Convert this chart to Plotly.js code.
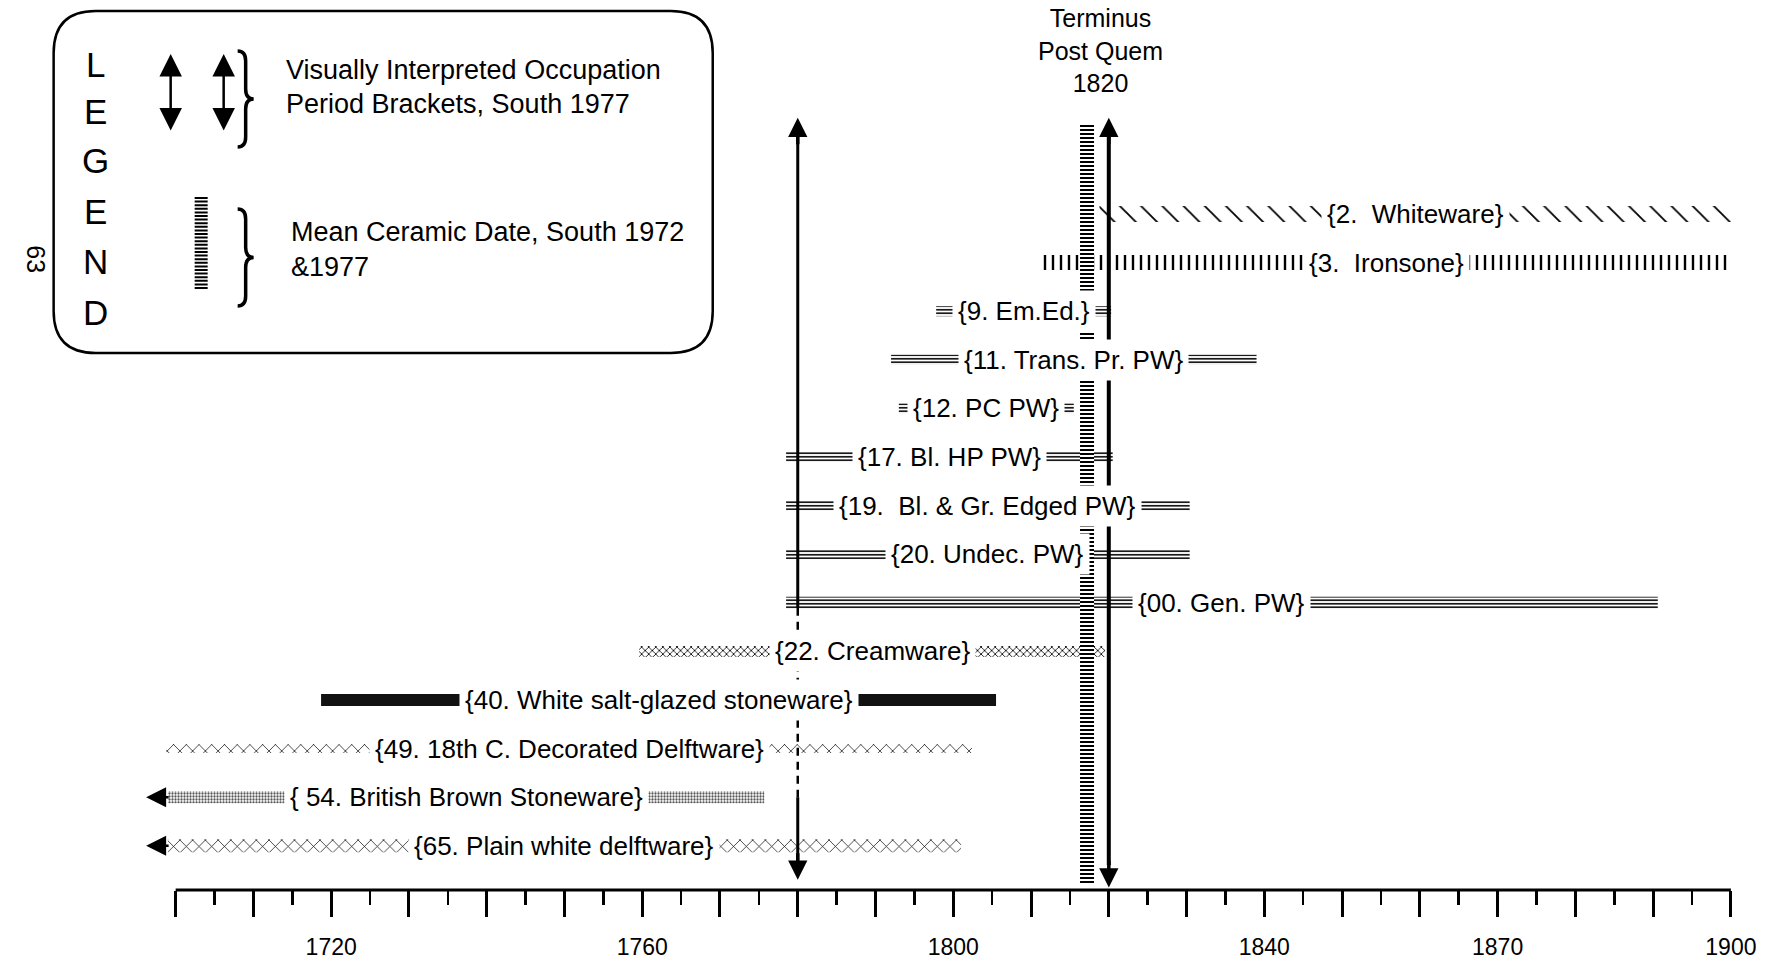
<!DOCTYPE html>
<html>
<head>
<meta charset="utf-8">
<script src="https://cdn.plot.ly/plotly-3.0.1.min.js"></script>
<style>html,body{margin:0;padding:0;background:#fff;}#chart{width:1769px;height:962px;}</style>
</head>
<body>
<div id="chart"></div>
<script>
// ---------------- DATA ----------------
const rowLabels = [
  "{2.  Whiteware}",
  "{3.  Ironsone}",
  "{9. Em.Ed.}",
  "{11. Trans. Pr. PW}",
  "{12. PC PW}",
  "{17. Bl. HP PW}",
  "{19.  Bl. & Gr. Edged PW}",
  "{20. Undec. PW}",
  "{00. Gen. PW}",
  "{22. Creamware}",
  "{40. White salt-glazed stoneware}",
  "{49. 18th C. Decorated Delftware}",
  "{ 54. British Brown Stoneware}",
  "{65. Plain white delftware}"
];
const startYear = [1818.8, 1811.5, 1797.8, 1792.0, 1793.0, 1778.5, 1778.5, 1778.5, 1778.5, 1759.6, 1718.7, 1698.8, 1699.0, 1699.0];
const endYear   = [1900.0, 1900.0, 1820.3, 1839.0, 1815.5, 1820.5, 1830.4, 1830.4, 1890.6, 1819.5, 1805.5, 1802.4, 1775.7, 1801.0];
const extendsEarlier = [false, false, false, false, false, false, false, false, false, false, false, false, true, true];

const occupationBracket = [1780, 1820];   // visually interpreted occupation period (South 1977)
const terminusPostQuem = 1820;
const meanCeramicDate = 1817.2;           // South 1972 & 1977

const majorTickYears = [1700,1710,1720,1730,1740,1750,1760,1770,1780,1790,1800,1810,1820,1830,1840,1850,1860,1870,1880,1890,1900];
const majorTickLabels = ["","","1720","","","","1760","","","","1800","","","","1840","","","1870","","","1900"];
const minorTickYears = [1705,1715,1725,1735,1745,1755,1765,1775,1785,1795,1805,1815,1825,1835,1845,1855,1865,1875,1885,1895];

// ---------------- STYLE ----------------
const FONT = "Liberation Sans, Arial, Helvetica, sans-serif";
const ROWPX = 48.6;                 // pixel spacing of rows
const rowStyle = [
  {shape:"\\", size:15, sol:0.12, h:16},
  {shape:"|",  size:8,  sol:0.30, h:15},
  {shape:"-",  size:3.5,sol:0.45, h:10},
  {shape:"-",  size:3.5,sol:0.45, h:10},
  {shape:"-",  size:3.5,sol:0.45, h:10},
  {shape:"-",  size:3.5,sol:0.45, h:10},
  {shape:"-",  size:3.5,sol:0.45, h:10},
  {shape:"-",  size:3.5,sol:0.45, h:10},
  {shape:"-",  size:3.5,sol:0.45, h:12},
  {shape:"x",  size:5,  sol:0.30, h:11},
  {shape:"",   size:5,  sol:0.30, h:12, solid:"#111"},
  {shape:"x",  size:9,  sol:0.15, h:9},
  {shape:".",  size:3,  sol:0.45, h:12, fg:"#555"},
  {shape:"x",  size:9,  sol:0.15, h:13}
];

// plot geometry (pixels)
const L = 129.35, W = 1632.75, H = 890;
const px = x => (x - L) / W;
const py = y => 1 - y / H;
const P = (x, y) => px(x).toFixed(5) + "," + py(y).toFixed(5);

const traces = [];

// Mean ceramic date column
const mcdHalf = 0.9, mcdTop = -1.85, mcdBot = 13.8;
traces.push({
  type: "scatter", mode: "lines", fill: "toself",
  x: [meanCeramicDate - mcdHalf, meanCeramicDate + mcdHalf, meanCeramicDate + mcdHalf, meanCeramicDate - mcdHalf, meanCeramicDate - mcdHalf],
  y: [mcdTop, mcdTop, mcdBot, mcdBot, mcdTop],
  line: {width: 0, color: "rgba(0,0,0,0)"},
  fillcolor: "white",
  fillpattern: {shape: "-", size: 4, solidity: 0.5, fgcolor: "black", bgcolor: "white", fillmode: "replace"},
  hoverinfo: "skip", showlegend: false
});

// Horizontal period bars
rowLabels.forEach((lab, k) => {
  const s = rowStyle[k];
  const marker = s.solid
    ? {color: s.solid, line: {width: 0}}
    : {color: "black", line: {width: 0},
       pattern: {shape: s.shape, size: s.size, solidity: s.sol, fgcolor: s.fg || "black", bgcolor: "white", fillmode: "replace"}};
  traces.push({
    type: "bar", orientation: "h",
    y: [k], base: [startYear[k]], x: [endYear[k] - startYear[k]],
    width: [s.h / ROWPX],
    marker: marker, hoverinfo: "skip", showlegend: false
  });
});

// vertical arrows shafts
const arrowTop = -1.98;
traces.push({type: "scatter", mode: "lines", x: [occupationBracket[0], occupationBracket[0]], y: [arrowTop + 0.3, 8.1],
  line: {color: "black", width: 3}, hoverinfo: "skip", showlegend: false});
traces.push({type: "scatter", mode: "lines", x: [occupationBracket[0], occupationBracket[0]], y: [8.1, 12.0],
  line: {color: "black", width: 2.5, dash: "8px,6px"}, hoverinfo: "skip", showlegend: false});
traces.push({type: "scatter", mode: "lines", x: [occupationBracket[0], occupationBracket[0]], y: [12.0, 13.3],
  line: {color: "black", width: 3}, hoverinfo: "skip", showlegend: false});
traces.push({type: "scatter", mode: "lines", x: [occupationBracket[1], occupationBracket[1]], y: [arrowTop + 0.3, 13.4],
  line: {color: "black", width: 4}, hoverinfo: "skip", showlegend: false});

const annotations = [];
// row labels
rowLabels.forEach((lab, k) => {
  annotations.push({
    x: (startYear[k] + endYear[k]) / 2, y: k, xref: "x", yref: "y",
    text: lab, showarrow: false, bgcolor: "white", borderpad: 5,
    font: {family: FONT, size: 26, color: "black"}
  });
  if (extendsEarlier[k]) {
    annotations.push({x: 1696.2, y: k, xref: "x", yref: "y", text: "", showarrow: true,
      ax: 24, ay: 0, arrowhead: 2, arrowsize: 1.6, arrowwidth: 2.5, arrowcolor: "black"});
  }
});
// arrow heads of brackets
[[occupationBracket[0], arrowTop, -28], [occupationBracket[0], 13.7, 28], [occupationBracket[1], arrowTop, -28], [occupationBracket[1], 13.86, 28]].forEach(a => {
  annotations.push({x: a[0], y: a[1], xref: "x", yref: "y", text: "", showarrow: true,
    ax: 0, ay: -a[2], arrowhead: 2, arrowsize: 1.1, arrowwidth: 3.5, arrowcolor: "black"});
});
// Terminus post quem title
annotations.push({x: terminusPostQuem, y: py(50), xref: "x", yref: "paper", yanchor: "middle", xshift: -8,
  text: "Terminus<br>Post Quem<br>" + terminusPostQuem, showarrow: false,
  font: {family: FONT, size: 25, color: "black"}});

// legend
"LEGEND".split("").forEach((ch, i) => {
  const ys = [64, 112, 161, 211, 261, 312];
  annotations.push({x: px(96), y: py(ys[i]), xref: "paper", yref: "paper", text: ch, showarrow: false,
    xanchor: "center", yanchor: "middle", font: {family: FONT, size: 35, color: "black"}});
});
[171, 224].forEach(x => {
  annotations.push({x: px(x), y: py(54), xref: "paper", yref: "paper", text: "", showarrow: true,
    ax: 0, ay: 78, arrowside: "end+start", arrowhead: 2, arrowsize: 1.8, arrowwidth: 2.5, arrowcolor: "black"});
});
const legText = [
  ["Visually Interpreted Occupation", 284, 70],
  ["Period Brackets, South 1977", 284, 104],
  ["Mean Ceramic Date, South 1972", 289, 232],
  ["&1977", 289, 267]
];
legText.forEach(t => {
  annotations.push({x: px(t[1]), y: py(t[2]), xref: "paper", yref: "paper", text: t[0], showarrow: false,
    xanchor: "left", yanchor: "middle", font: {family: FONT, size: 27, color: "black"}});
});
annotations.push({x: px(20), y: py(243), xref: "paper", yref: "paper", text: "63", showarrow: false,
  textangle: 90, font: {family: FONT, size: 25, color: "black"}});

// shapes
function brace(x, yTop, yBot, w) {
  const mid = (yTop + yBot) / 2, r = 10, xm = x + w / 2;
  return `M ${P(x, yTop)} Q ${P(xm, yTop)} ${P(xm, yTop + r)} L ${P(xm, mid - r)} Q ${P(xm, mid)} ${P(x + w, mid)} Q ${P(xm, mid)} ${P(xm, mid + r)} L ${P(xm, yBot - r)} Q ${P(xm, yBot)} ${P(x, yBot)}`;
}
const rx0 = 54, ry0 = 11, rx1 = 713, ry1 = 353, rr = 42;
const roundRect = `M ${P(rx0 + rr, ry0)} L ${P(rx1 - rr, ry0)} Q ${P(rx1, ry0)} ${P(rx1, ry0 + rr)} L ${P(rx1, ry1 - rr)} Q ${P(rx1, ry1)} ${P(rx1 - rr, ry1)} L ${P(rx0 + rr, ry1)} Q ${P(rx0, ry1)} ${P(rx0, ry1 - rr)} L ${P(rx0, ry0 + rr)} Q ${P(rx0, ry0)} ${P(rx0 + rr, ry0)} Z`;
let mcdSym = "";
for (let y = 198; y <= 291; y += 3.6) mcdSym += `M ${P(195, y)} L ${P(208, y)} `;

const shapes = [
  {type: "path", xref: "paper", yref: "paper", path: roundRect, line: {color: "black", width: 2.5}},
  {type: "path", xref: "paper", yref: "paper", path: brace(238, 51, 147, 16), line: {color: "black", width: 3.5}},
  {type: "path", xref: "paper", yref: "paper", path: brace(238, 209, 306, 16), line: {color: "black", width: 3.5}},
  {type: "path", xref: "paper", yref: "paper", path: mcdSym, line: {color: "black", width: 2}},
  {type: "line", xref: "x", yref: "paper", x0: majorTickYears[0], x1: majorTickYears[majorTickYears.length - 1], y0: 0, y1: 0,
   line: {color: "black", width: 3}}
];

const layout = {
  width: 1769, height: 962,
  margin: {l: L, r: 1769 - L - W, t: 0, b: 962 - H},
  paper_bgcolor: "white", plot_bgcolor: "white",
  barmode: "overlay", showlegend: false,
  font: {family: FONT, color: "black"},
  xaxis: {
    range: [1694, 1904], showgrid: false, zeroline: false, showline: false,
    tickmode: "array", tickvals: majorTickYears, ticktext: majorTickLabels,
    ticks: "outside", ticklen: 26, tickwidth: 3, tickcolor: "black",
    ticklabelstandoff: 10,
    tickfont: {family: FONT, size: 23, color: "black"},
    minor: {tickmode: "array", tickvals: minorTickYears, ticks: "outside", ticklen: 14, tickwidth: 2.5, tickcolor: "black", showgrid: false},
    fixedrange: true
  },
  yaxis: {range: [(H - 214) / ROWPX, -214 / ROWPX], visible: false, showgrid: false, zeroline: false, fixedrange: true},
  annotations: annotations,
  shapes: shapes
};

Plotly.newPlot("chart", traces, layout, {displayModeBar: false, staticPlot: true});
</script>
</body>
</html>
